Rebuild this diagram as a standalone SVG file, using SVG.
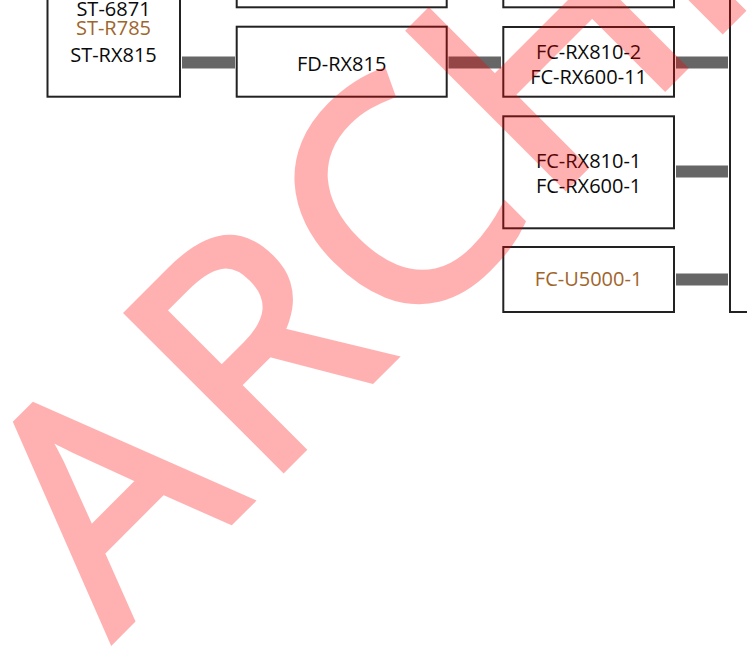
<svg xmlns="http://www.w3.org/2000/svg" width="747" height="652" viewBox="0 0 747 652">
  <style>
    .box { fill: #ffffff; stroke: #222222; stroke-width: 2; }
    .lbl { font-family: "Open Sans", "Noto Sans", "DejaVu Sans", sans-serif; font-size: 20px; text-anchor: middle; fill: #0a0a0a; }
    .brn { fill: #a0652b; }
    .bar { stroke: #666666; stroke-width: 12; fill: none; }
    .wm { font-family: "Open Sans", "Liberation Sans", sans-serif; font-size: 307px; fill: #ff0000; stroke: #ff0000; stroke-width: 8; stroke-linejoin: miter; opacity: 0.3; }
  </style>
  <rect width="747" height="652" fill="#ffffff"/>
  <g id="connectors">
    <line class="bar" x1="182" y1="62.5" x2="235" y2="62.5"/>
    <line class="bar" x1="448.5" y1="62.5" x2="501" y2="62.5"/>
    <line class="bar" x1="676" y1="62.5" x2="728" y2="62.5"/>
    <line class="bar" x1="676" y1="171.5" x2="728" y2="171.5"/>
    <line class="bar" x1="676" y1="279.5" x2="728" y2="279.5"/>
  </g>
  <g id="node-st">
    <rect class="box" x="47.5" y="-20" width="132.5" height="116.7"/>
    <text class="lbl" x="113.5" y="16">ST-6871</text>
    <text class="lbl brn" x="113.5" y="35.3">ST-R785</text>
    <text class="lbl" x="113.5" y="62.3">ST-RX815</text>
  </g>
  <g id="node-mid-top">
    <rect class="box" x="236.7" y="-50" width="210" height="57.3"/>
  </g>
  <g id="node-fd-rx815">
    <rect class="box" x="236.7" y="26.7" width="210" height="70"/>
    <text class="lbl" x="341.7" y="71">FD-RX815</text>
  </g>
  <g id="node-right-top">
    <rect class="box" x="503.3" y="-50" width="170.7" height="57.3"/>
  </g>
  <g id="node-fc-rx810-2">
    <rect class="box" x="503.3" y="27" width="170.7" height="69.7"/>
    <text class="lbl" x="588.6" y="59.4">FC-RX810-2</text>
    <text class="lbl" x="588.6" y="83.5">FC-RX600-11</text>
  </g>
  <g id="node-fc-rx810-1">
    <rect class="box" x="503.3" y="116.3" width="170.7" height="112"/>
    <text class="lbl" x="588.6" y="168">FC-RX810-1</text>
    <text class="lbl" x="588.6" y="192.5">FC-RX600-1</text>
  </g>
  <g id="node-fc-u5000-1">
    <rect class="box" x="503.3" y="247" width="170.7" height="65"/>
    <text class="lbl brn" x="588.6" y="286">FC-U5000-1</text>
  </g>
  <g id="node-right-big">
    <rect class="box" x="730" y="-50" width="100" height="362"/>
  </g>
  <g id="watermark">
    <text class="wm" transform="translate(109,642.5) rotate(-45)" x="5 217 413 616 838" y="0">ARCHIVE</text>
  </g>
</svg>
